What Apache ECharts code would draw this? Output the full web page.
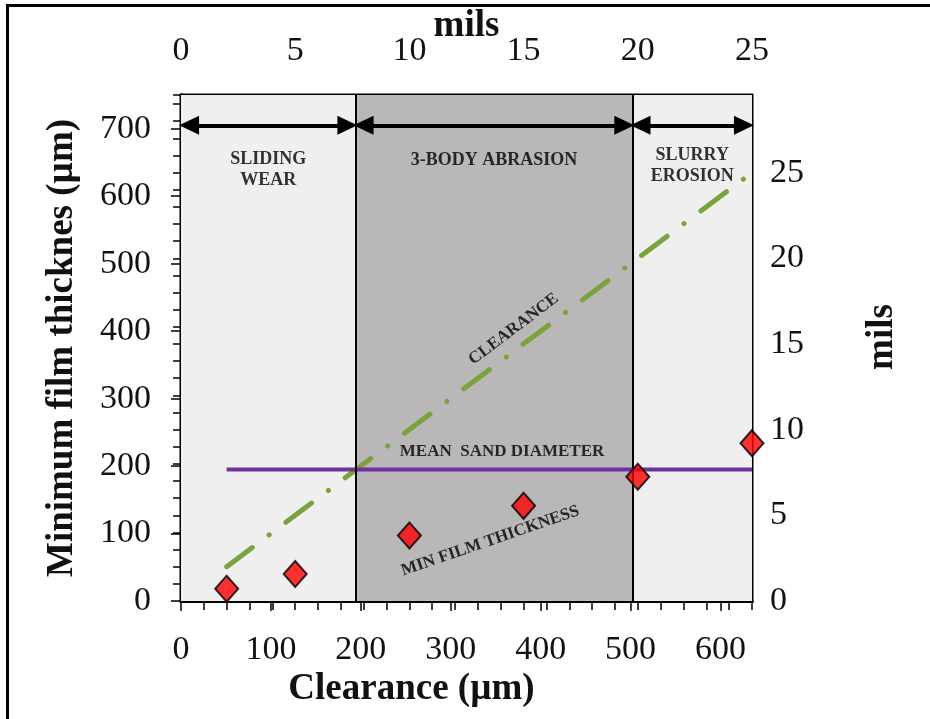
<!DOCTYPE html>
<html><head><meta charset="utf-8">
<script src="https://cdn.jsdelivr.net/npm/echarts@6/dist/echarts.min.js"></script>
<style>html,body{margin:0;padding:0;background:#fff;overflow:hidden}#c{width:930px;height:719px}</style>
</head><body><div id="c"></div>
<script>
// ---- data ----
const clearanceTicks = [0, 100, 200, 300, 400, 500, 600];       // µm (bottom)
const milsTicks = [0, 5, 10, 15, 20, 25];                        // mils (top/right)
const filmTicks = [0, 100, 200, 300, 400, 500, 600, 700];        // µm (left)
const clearanceUm = [50.8, 127, 254, 381, 508, 635];             // measured clearances
const minFilmUm = [18, 40, 97, 141, 184, 234];                   // min film thickness
const clearanceLineX = [50.8, 635];
const clearanceLineY = [50.8, 635];
const sandX = [50.8, 635];
const sandY = [195, 195];
const zoneEdges = [0, 194, 502, 635];
const zoneNames = ['SLIDING\nWEAR', '3-BODY ABRASION', 'SLURRY\nEROSION'];
const arrowLevel = 705;
const annoText = ['CLEARANCE', 'MEAN  SAND DIAMETER', 'MIN FILM THICKNESS'];
const annoX = [370, 357, 344];
const annoY = [403, 222, 89];
const zoneLabelY = [639, 653, 645];

const UM_PER_MIL = 25.4;
const xMax = 635, yMax = 750;
const serif = "'Liberation Serif','Times New Roman',serif";

const chart = echarts.init(document.getElementById('c'));

const tickFont = {fontFamily: serif, fontSize: 34, color: '#111'};
const nameFont = {fontFamily: serif, fontSize: 37, fontWeight: 'bold', color: '#111'};
const blackLine = {show: true, lineStyle: {color: '#000', width: 3}};

const zoneColors = ['#efefef', '#b9b7b8', '#efefef'];

const series = [];
// bands, boundaries
series.push({
  type: 'line', xAxisIndex: 0, yAxisIndex: 0, data: [], silent: true,
  markArea: {
    silent: true,
    data: zoneNames.map((n, i) => [
      {xAxis: zoneEdges[i], yAxis: 0, itemStyle: {color: zoneColors[i]}},
      {xAxis: zoneEdges[i + 1], yAxis: yMax}
    ])
  },
  markLine: {
    silent: true, symbol: 'none', animation: false,
    label: {show: false},
    lineStyle: {color: '#000', width: 2, type: 'solid'},
    data: zoneEdges.slice(1, -1).map(e => ({xAxis: e}))
  }
});
// double arrows
series.push({
  type: 'line', xAxisIndex: 0, yAxisIndex: 0, data: [], silent: true,
  markLine: {
    silent: true, animation: false,
    symbol: ['triangle', 'triangle'], symbolSize: [19, 20],
    label: {show: false},
    lineStyle: {color: '#000', width: 4, type: 'solid'},
    data: zoneNames.map((n, i) => [
      {coord: [zoneEdges[i] + 9, arrowLevel]},
      {coord: [zoneEdges[i + 1] - 9, arrowLevel]}
    ])
  }
});
// zone labels
series.push({
  type: 'scatter', xAxisIndex: 0, yAxisIndex: 0, symbolSize: 0, silent: true,
  label: {show: true, position: 'inside', formatter: p => p.name,
    fontFamily: serif, fontSize: 18, fontWeight: 'bold', color: '#000', lineHeight: 21},
  data: zoneNames.map((n, i) => ({name: n, value: [(zoneEdges[i] + zoneEdges[i + 1]) / 2, zoneLabelY[i]]}))
});
// clearance line
series.push({
  type: 'line', xAxisIndex: 0, yAxisIndex: 0, showSymbol: false, silent: true,
  lineStyle: {color: '#7aa33c', width: 5, type: [32, 21, 0.1, 21], cap: 'round'},
  data: clearanceLineX.map((x, i) => [x, clearanceLineY[i]])
});
// mean sand diameter
series.push({
  type: 'line', xAxisIndex: 0, yAxisIndex: 0, showSymbol: false, silent: true,
  lineStyle: {color: '#7030a0', width: 4},
  data: sandX.map((x, i) => [x, sandY[i]])
});
// min film thickness diamonds
series.push({
  type: 'scatter', xAxisIndex: 0, yAxisIndex: 0, clip: false,
  symbol: 'diamond', symbolSize: [23, 26],
  itemStyle: {color: '#ff0000', borderColor: '#000', borderWidth: 2},
  data: clearanceUm.map((x, i) => [x, minFilmUm[i]]), z: 5
});
// annotations
const annoRot = [37, 0, 19];
series.push({
  type: 'scatter', xAxisIndex: 0, yAxisIndex: 0, symbolSize: 0, silent: true,
  label: {show: true, position: 'inside', formatter: p => p.name,
    fontFamily: serif, fontSize: 17, fontWeight: 'bold', color: '#000'},
  data: annoText.map((t, i) => ({name: t, value: [annoX[i], annoY[i]], label: {rotate: annoRot[i]}}))
});

const tickOnlyAxis = (extra) => Object.assign({
  type: 'value', axisLine: {show: false}, axisLabel: {show: false},
  splitLine: {show: false}
}, extra);
const inTick = (len) => ({show: true, inside: true, length: len, lineStyle: {color: '#000', width: 1.5}});

chart.setOption({
  animation: false,
  grid: {left: 181, right: 178, top: 95, bottom: 118, show: true, borderColor: '#000', borderWidth: 3,
    backgroundColor: 'transparent', containLabel: false, outerBoundsMode: 'none'},
  graphic: [
    {type: 'line', shape: {x1: 7.5, y1: 5.5, x2: 7.5, y2: 719}, style: {stroke: '#000', lineWidth: 3}, silent: true},
    {type: 'line', shape: {x1: 6, y1: 5.5, x2: 930, y2: 5.5}, style: {stroke: '#000', lineWidth: 3}, silent: true}
  ],
  xAxis: [
    {type: 'value', position: 'bottom', min: 0, max: xMax, interval: 100,
      axisLine: blackLine, splitLine: {show: false},
      axisTick: {show: true, length: 10, lineStyle: {color: '#000', width: 1.5}},
      axisLabel: Object.assign({margin: 32, showMaxLabel: false}, tickFont),
      name: 'Clearance (µm)', nameLocation: 'middle', nameGap: 70, nameMoveOverlap: false,
      nameTextStyle: Object.assign({padding: [0, 110, 0, 0]}, nameFont)},
    {type: 'value', position: 'top', min: 0, max: xMax / UM_PER_MIL, interval: 5,
      axisLine: blackLine, splitLine: {show: false},
      axisTick: {show: true, length: 12, lineStyle: {color: '#000', width: 1.5}},
      axisLabel: Object.assign({margin: 27, showMaxLabel: true}, tickFont),
      name: 'mils', nameLocation: 'middle', nameGap: 50, nameMoveOverlap: false, nameTextStyle: nameFont},
    tickOnlyAxis({position: 'bottom', min: 0, max: xMax, interval: 10, axisTick: inTick(6)}),
    tickOnlyAxis({position: 'top', min: 0, max: xMax / UM_PER_MIL, interval: 1, axisTick: inTick(9)})
  ],
  yAxis: [
    {type: 'value', position: 'left', min: 0, max: yMax, interval: 100,
      axisLine: blackLine, splitLine: {show: false},
      axisTick: {show: true, length: 10, lineStyle: {color: '#000', width: 1.5}},
      axisLabel: Object.assign({margin: 30, showMaxLabel: false}, tickFont),
      name: 'Minimum film thicknes (µm)', nameLocation: 'middle', nameGap: 100, nameRotate: 90, nameMoveOverlap: false, nameTextStyle: nameFont},
    {type: 'value', position: 'right', min: 0, max: yMax / UM_PER_MIL, interval: 5,
      axisLine: blackLine, splitLine: {show: false},
      axisTick: {show: true, length: 12, lineStyle: {color: '#000', width: 1.5}},
      axisLabel: Object.assign({margin: 18, showMaxLabel: false}, tickFont),
      name: 'mils', nameLocation: 'middle', nameGap: 112, nameRotate: 90, nameMoveOverlap: false,
      nameTextStyle: Object.assign({padding: [0, 0, 0, 22]}, nameFont)},
    tickOnlyAxis({position: 'left', min: 0, max: yMax, interval: 20, axisTick: inTick(9)}),
    tickOnlyAxis({position: 'right', min: 0, max: yMax / UM_PER_MIL, interval: 1, axisTick: inTick(8)})
  ],
  series: series
});
</script></body></html>
